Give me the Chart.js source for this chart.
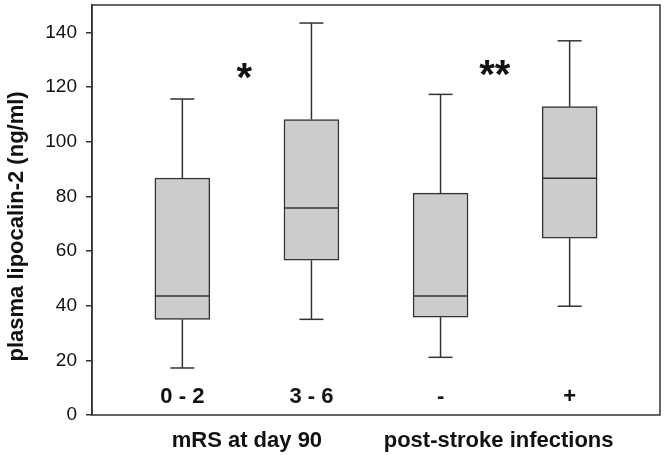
<!DOCTYPE html>
<html>
<head>
<meta charset="utf-8">
<script src="https://cdn.jsdelivr.net/npm/chart.js@4/dist/chart.umd.min.js"></script>
<style>
  html, body { margin: 0; padding: 0; background: #fff; }
  #wrap { width: 668px; height: 455px; }
</style>
</head>
<body>
<div id="wrap"><canvas id="boxChart"></canvas></div>
<script>
// groups and box statistics (ng/ml)
const categories = ['0 - 2', '3 - 6', '-', '+'];
const groupNames = ['mRS at day 90', 'post-stroke infections'];
const whiskerLow = [17.2, 35.0, 21.1, 39.8];
const q1 = [35.0, 56.6, 35.8, 64.7];
const median = [43.5, 75.7, 43.5, 86.6];
const q3 = [86.7, 108.1, 81.2, 112.8];
const whiskerHigh = [115.6, 143.4, 117.3, 136.9];
const yTicks = [0, 20, 40, 60, 80, 100, 120, 140];
const yTitle = 'plasma lipocalin-2 (ng/ml)';
// significance marks (x in category index units, y in ng/ml)
const sigLabels = ['*', '**'];
const sigX = [0.48, 2.42];
const sigY = [126, 127];

const ink = '#333333';
const font = 'Arial, "Liberation Sans", sans-serif';

const boxExtras = {
  id: 'boxExtras',
  afterDatasetsDraw(chart) {
    const { ctx, chartArea: a } = chart;
    const xs = chart.scales.x, ys = chart.scales.y;
    const half = 27.5, cap = 12;
    ctx.save();
    ctx.strokeStyle = ink;
    ctx.lineWidth = 1.5;
    categories.forEach((c, i) => {
      const x = xs.getPixelForValue(i);
      const line = (x1, y1, x2, y2) => {
        ctx.beginPath(); ctx.moveTo(x1, y1); ctx.lineTo(x2, y2); ctx.stroke();
      };
      // whiskers + caps
      line(x, ys.getPixelForValue(q3[i]), x, ys.getPixelForValue(whiskerHigh[i]));
      line(x, ys.getPixelForValue(q1[i]), x, ys.getPixelForValue(whiskerLow[i]));
      line(x - cap, ys.getPixelForValue(whiskerHigh[i]), x + cap, ys.getPixelForValue(whiskerHigh[i]));
      line(x - cap, ys.getPixelForValue(whiskerLow[i]), x + cap, ys.getPixelForValue(whiskerLow[i]));
      // median
      line(x - half, ys.getPixelForValue(median[i]), x + half, ys.getPixelForValue(median[i]));
      // category label inside the plot
      ctx.fillStyle = '#111';
      ctx.font = 'bold 22px ' + font;
      ctx.textAlign = 'center';
      ctx.textBaseline = 'middle';
      ctx.fillText(c, x, ys.getPixelForValue(6.7));
    });
    // significance asterisks
    ctx.font = 'bold 40px ' + font;
    ctx.textAlign = 'center';
    ctx.textBaseline = 'alphabetic';
    sigLabels.forEach((s, i) => {
      const m = ctx.measureText(s);
      const mid = (m.actualBoundingBoxAscent - m.actualBoundingBoxDescent) / 2;
      ctx.fillText(s, xs.getPixelForValue(sigX[i]), ys.getPixelForValue(sigY[i]) + mid);
    });
    // frame
    ctx.lineWidth = 1.5;
    ctx.strokeRect(a.left, a.top, a.right - a.left, a.bottom - a.top);
    // y axis title, sits a bit below the axis middle in the original
    ctx.translate(17, ys.getPixelForValue(69));
    ctx.rotate(-Math.PI / 2);
    ctx.font = 'bold 22px ' + font;
    ctx.textBaseline = 'middle';
    ctx.fillText(yTitle, 0, 0);
    ctx.restore();
  }
};

new Chart(document.getElementById('boxChart'), {
  type: 'bar',
  data: {
    datasets: [{
      data: categories.map((c, i) => ({ x: i, y: [q1[i], q3[i]] })),
      backgroundColor: '#cccccc',
      borderColor: ink,
      borderWidth: 1.5,
      borderSkipped: false,
      barThickness: 55
    }]
  },
  options: {
    responsive: true,
    maintainAspectRatio: false,
    animation: false,
    layout: { padding: { top: 5, right: 8, left: 0, bottom: 0 } },
    plugins: { legend: { display: false }, tooltip: { enabled: false } },
    scales: {
      x: {
        type: 'linear',
        offset: false,
        min: -0.7,
        max: 3.7,
        afterBuildTicks: (s) => { s.ticks = [{ value: 0.5 }, { value: 2.45 }]; },
        afterFit: (s) => { s.height = 40; s.paddingLeft = 0; s.paddingRight = 0; },
        grid: { display: false },
        border: { display: false },
        ticks: {
          autoSkip: false,
          maxRotation: 0,
          padding: 5,
          color: '#111',
          font: { family: font, size: 22, weight: 'bold' },
          callback: (v) => (v === 0.5 ? groupNames[0] : groupNames[1])
        }
      },
      y: {
        min: 0,
        max: 150,
        afterBuildTicks: (s) => { s.ticks = yTicks.map(v => ({ value: v })); },
        afterFit: (s) => { s.width = 92; s.paddingTop = 0; s.paddingBottom = 0; },
        grid: { drawOnChartArea: false, drawTicks: true, tickLength: 6, color: ink, lineWidth: 1.5 },
        border: { display: true, color: ink, width: 1.5 },
        ticks: {
          padding: 9,
          color: '#111',
          font: { family: font, size: 19 }
        }
      }
    }
  },
  plugins: [boxExtras]
});
</script>
</body>
</html>
